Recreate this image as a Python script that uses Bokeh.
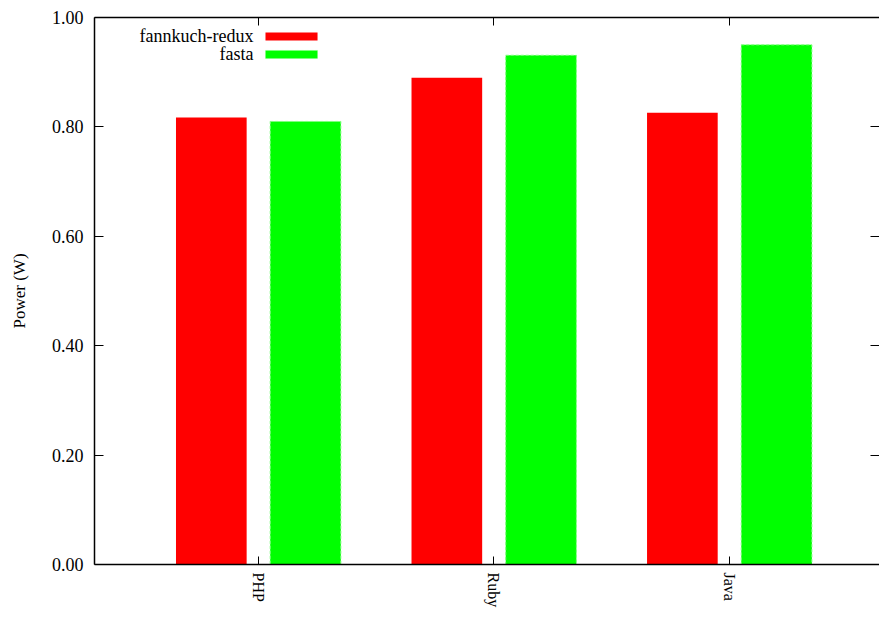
from bokeh.plotting import figure
from bokeh.models import (Range1d, FixedTicker, LinearAxis, Label, BoxAnnotation,
                          ColumnDataSource, NumeralTickFormatter)
from bokeh.transform import dodge
from bokeh.embed import file_html
from bokeh.resources import INLINE

# ---- data ----
languages = ["PHP", "Ruby", "Java"]
positions = [1, 2, 3]
fannkuch_redux = [0.817, 0.890, 0.826]
fasta = [0.810, 0.931, 0.950]
y_ticks = [0.0, 0.2, 0.4, 0.6, 0.8, 1.0]
series_names = ["fannkuch-redux", "fasta"]

FONT = "Liberation Serif"
FS = "18px"
RED = "#ff0000"
GREEN = "#00ff00"

src = ColumnDataSource(dict(pos=positions, lang=languages, fr=fannkuch_redux, fa=fasta))

p = figure(width=879, height=610, output_backend="svg", toolbar_location=None,
           x_range=Range1d(0.304, 3.637), y_range=Range1d(0.0, 1.0),
           min_border_left=94, min_border_top=17, min_border_right=0, min_border_bottom=0,
           x_axis_location="below", y_axis_location="left")
p.outline_line_color = None
p.grid.grid_line_color = None
p.background_fill_color = "white"
p.border_fill_color = "white"

p.vbar(x=dodge("pos", -0.2), top="fr", width=0.3, bottom=0, source=src,
       fill_color=RED, line_color=None)
p.vbar(x=dodge("pos", 0.2), top="fa", width=0.3, bottom=0, source=src,
       fill_color=GREEN, line_color="#80ff80", line_dash="3 2", line_width=1)

# bottom axis
xa = p.xaxis[0]
xa.ticker = FixedTicker(ticks=positions)
xa.major_label_overrides = {pos: lang for pos, lang in zip(positions, languages)}
xa.major_label_orientation = "vertical"
xa.major_tick_in = 8
xa.major_tick_out = 0
xa.minor_tick_line_color = None
xa.major_label_standoff = 8
xa.major_label_text_font = FONT
xa.major_label_text_font_size = "16px"
xa.major_label_text_color = "black"
xa.axis_line_width = 1.5
xa.axis_line_color = "black"
xa.major_tick_line_color = "black"

# left axis
ya = p.yaxis[0]
ya.ticker = FixedTicker(ticks=y_ticks)
ya.formatter = NumeralTickFormatter(format="0.00")
ya.major_tick_in = 9
ya.major_tick_out = 0
ya.minor_tick_line_color = None
ya.major_label_standoff = 11
ya.major_label_text_font = FONT
ya.major_label_text_font_size = FS
ya.major_label_text_color = "black"
ya.axis_label = "Power (W)"
ya.axis_label_text_font = FONT
ya.axis_label_text_font_size = "17px"
ya.axis_label_text_font_style = "normal"
ya.axis_label_text_color = "black"
ya.axis_label_standoff = 20
ya.axis_line_width = 1.5
ya.axis_line_color = "black"
ya.major_tick_line_color = "black"

# top border with ticks (no labels)
top_axis = LinearAxis(ticker=FixedTicker(ticks=positions), major_label_text_font_size="1px",
                      major_label_text_color=None, major_label_standoff=0,
                      major_tick_in=8, major_tick_out=0,
                      minor_tick_line_color=None, axis_line_width=1.5,
                      axis_line_color="black", major_tick_line_color="black")
p.add_layout(top_axis, "above")

# right side ticks (border clipped in the original)
right_axis = LinearAxis(ticker=FixedTicker(ticks=y_ticks), major_label_text_font_size="1px",
                        major_label_text_color=None, major_label_standoff=0,
                        major_tick_in=9, major_tick_out=0,
                        minor_tick_line_color=None, axis_line_color=None,
                        major_tick_line_color="black")
p.add_layout(right_axis, "right")

# legend (label left of swatch, gnuplot style)
legend_text_x = 0.979
legend_sw_left = 1.030
legend_sw_right = 1.251
legend_rows = [(0.9653, 0.9726, 0.9580, RED, None), (0.9325, 0.9398, 0.9252, GREEN, "#80ff80")]
for name, (ty, top, bot, col, lc) in zip(series_names, legend_rows):
    p.add_layout(Label(x=legend_text_x, y=ty, text=name, text_align="right",
                       text_baseline="middle", text_font=FONT, text_font_size=FS,
                       text_color="black"))
    p.add_layout(BoxAnnotation(left=legend_sw_left, right=legend_sw_right, top=top, bottom=bot,
                               fill_color=col, fill_alpha=1.0, line_color=lc,
                               line_dash="3 2" if lc else "solid", line_width=1))

open("out.html", "w").write(file_html(p, INLINE))
